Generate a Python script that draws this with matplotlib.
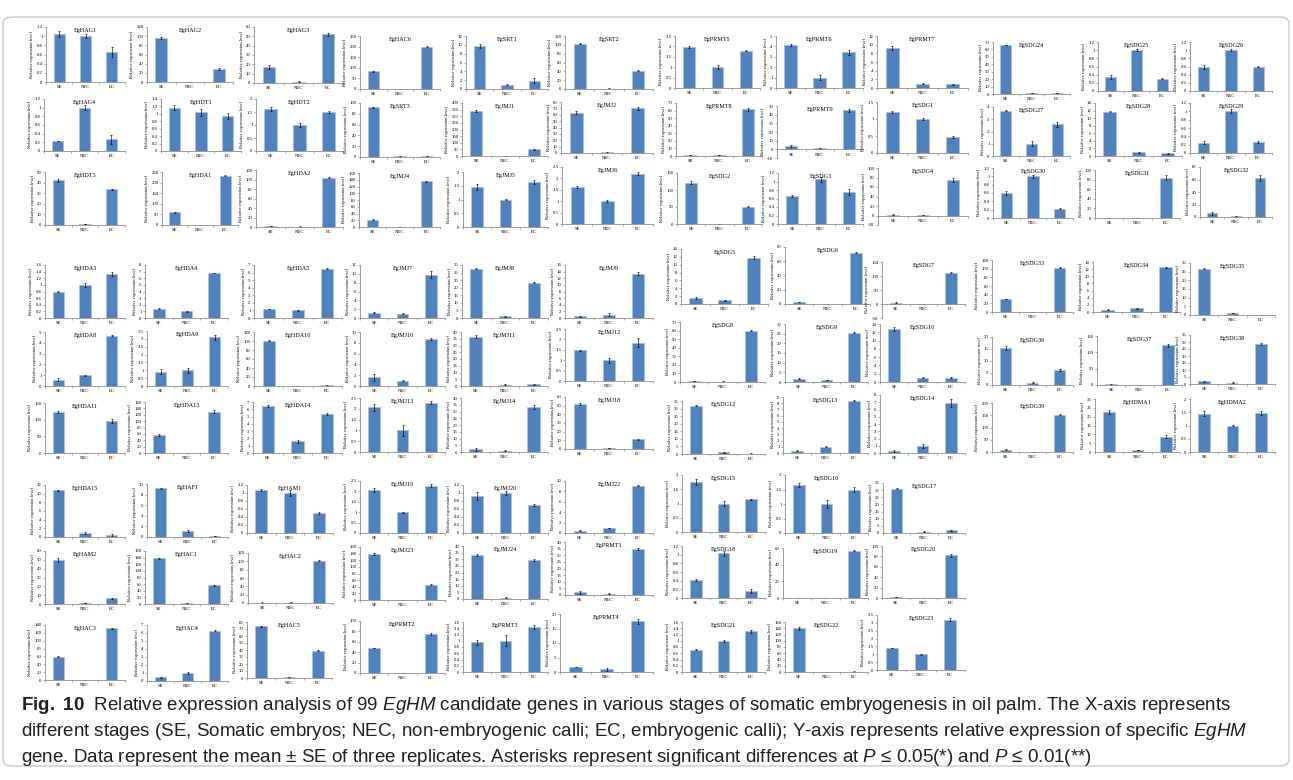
import numpy as np
import matplotlib
matplotlib.use("Agg")
import matplotlib.pyplot as plt
from matplotlib import font_manager
from matplotlib.patches import FancyBboxPatch
from matplotlib.ticker import FuncFormatter

# ─── Data ───────────────────────────────────────────────────────────────────
stages = ["SE", "NEC", "EC"]

genes = [
    # top block
    "EgHAG1", "EgHAG2", "EgHAG3", "EgHAG4", "EgHDT1", "EgHDT2", "EgHDT3", "EgHDA1", "EgHDA2",
    "EgHAC6", "EgSRT1", "EgSRT2", "EgSRT3", "EgJMJ1", "EgJMJ2", "EgJMJ4", "EgJMJ5", "EgJMJ6",
    "EgPRMT5", "EgPRMT6", "EgPRMT7", "EgPRMT8", "EgPRMT9", "EgSDG1", "EgSDG2", "EgSDG3", "EgSDG4",
    "EgSDG24", "EgSDG25", "EgSDG26", "EgSDG27", "EgSDG28", "EgSDG29", "EgSDG30", "EgSDG31", "EgSDG32",
    # middle block
    "EgHDA3", "EgHDA4", "EgHDA5", "EgHDA8", "EgHDA9", "EgHDA10", "EgHDA11", "EgHDA13", "EgHDA14",
    "EgJMJ7", "EgJMJ8", "EgJMJ9", "EgJMJ10", "EgJMJ11", "EgJMJ12", "EgJMJ13", "EgJMJ14", "EgJMJ18",
    "EgSDG5", "EgSDG6", "EgSDG7", "EgSDG8", "EgSDG9", "EgSDG10", "EgSDG12", "EgSDG13", "EgSDG14",
    "EgSDG33", "EgSDG34", "EgSDG35", "EgSDG36", "EgSDG37", "EgSDG38", "EgSDG39", "EgHDMA1", "EgHDMA2",
    # bottom block
    "EgHDA15", "EgHAF1", "EgHAM1", "EgHAM2", "EgHAC1", "EgHAC2", "EgHAC3", "EgHAC4", "EgHAC5",
    "EgJMJ19", "EgJMJ20", "EgJMJ22", "EgJMJ23", "EgJMJ24", "EgPRMT1", "EgPRMT2", "EgPRMT3", "EgPRMT4",
    "EgSDG15", "EgSDG16", "EgSDG17", "EgSDG18", "EgSDG19", "EgSDG20", "EgSDG21", "EgSDG22", "EgSDG23",
]

se_mean = [
    1.05, 96, 17, 0.23, 1.17, 1.62, 42, 60, 1.5,
    83, 9.8, 103, 92, 340, 63, 21, 1.45, 1.62,
    1.95, 4.15, 9.3, 1, 3.5, 1.2, 122, 0.66, 2,
    66, 0.34, 0.58, 3.7, 11.7, 0.25, 0.6, 0.2, 6,
    0.8, 1.4, 1.2, 0.6, 0.92, 101, 123, 57, 6.45,
    1.2, 32.5, 0.5, 1.6, 36.5, 1.48, 2.07, 2, 52,
    1.6, 3, 5, 1, 1.8, 12.8, 32, 0.4, 0.25,
    30, 0.7, 26.7, 15.5, 2, 2, 10, 22.7, 1.45,
    10.8, 9.2, 1.07, 50, 138, 1, 59, 0.45, 74,
    2.07, 0.93, 0.4, 140, 33.5, 2, 48, 0.95, 1.7,
    1.75, 1.65, 31, 0.41, 0.5, 2, 0.72, 140, 1.4,
]
nec_mean = [
    1.0, 0.5, 1.5, 1.0, 1.04, 1.0, 1, 0.5, 1,
    1, 1.0, 1, 1, 1, 1, 1, 1.0, 1.0,
    1.0, 1.0, 1.0, 1, 1, 1.0, 0, 1.05, 1,
    1, 1.0, 1.0, 1.0, 1.0, 1.0, 1.0, 0.2, 1,
    1.0, 1.0, 1.0, 1.0, 1.0, 0.5, 0, 0, 1.6,
    1.0, 1.0, 1.0, 1.0, 1, 1.0, 1.0, 1, 1,
    0.9, 0.5, 1, 0.5, 1, 1.0, 1, 1.0, 1.0,
    0.2, 1.0, 1.0, 1.0, 1, 1, 0.2, 1, 1.0,
    1.0, 1.1, 1.0, 1, 2, 1, 0.2, 1.0, 1,
    1.0, 1.0, 1.0, 0.2, 1, 1, 0.2, 1.0, 1.0,
    1.0, 1.0, 1, 1.03, 0.5, 0.5, 1.0, 1, 1.0,
]
ec_mean = [
    0.66, 28, 52, 0.27, 0.94, 1.5, 33.5, 232, 104,
    200, 1.9, 41, 1.5, 52, 70, 135, 1.63, 2.2,
    1.8, 3.45, 0.9, 62, 45, 0.47, 51, 0.75, 74,
    1, 0.3, 0.6, 2.6, 0.7, 0.27, 0.22, 84, 62,
    1.32, 6.8, 6.5, 4.65, 3.1, 1.5, 96, 130, 5.4,
    9.8, 23.3, 13.4, 8.7, 1.2, 1.85, 2.28, 33.5, 11,
    11.8, 72, 112, 60, 25.5, 1.0, 0.3, 8.4, 6.9,
    102, 12.5, 0.1, 6.3, 122, 28.5, 152, 8.7, 1.48,
    0.4, 0.2, 0.5, 6.5, 56, 102, 132, 6.3, 39,
    2.27, 0.7, 9.1, 46, 29.3, 34.5, 75, 1.43, 17.5,
    1.15, 1.5, 2, 0.16, 57, 82, 1.3, 1.5, 3.2,
]
se_err = [
    0.06, 1.5, 2, 0.01, 0.07, 0.07, 1.5, 2, 0.3,
    2, 0.5, 1.5, 1, 6, 2.5, 1.5, 0.1, 0.03,
    0.05, 0.08, 0.5, 0.2, 1, 0.03, 5, 0.02, 0.5,
    0.5, 0.05, 0.05, 0.03, 0.2, 0.04, 0.04, 0, 2,
    0.03, 0.05, 0.05, 0.15, 0.18, 1, 2, 3, 0.1,
    0.1, 0.2, 0.1, 0.6, 1.2, 0.03, 0.17, 1, 1.5,
    0.3, 0.5, 1, 0.3, 0.2, 0.4, 0.3, 0.05, 0.1,
    1, 0.15, 0.2, 0.8, 0.5, 0.3, 2, 1, 0.08,
    0.1, 0.1, 0.03, 2.5, 1.5, 0.3, 1, 0.05, 0.5,
    0.1, 0.1, 0.1, 3, 0.8, 1, 0.5, 0.08, 0.1,
    0.1, 0.07, 0.2, 0.02, 0.1, 0.5, 0.03, 4, 0.03,
]
nec_err = [
    0.05, 0.2, 0.5, 0.06, 0.1, 0.08, 0.2, 0.2, 0.3,
    0.3, 0.1, 0.3, 0.3, 0.5, 0.3, 0.3, 0.02, 0.04,
    0.1, 0.25, 0.1, 0.2, 0.8, 0.02, 0, 0.05, 0.3,
    0.2, 0.02, 0.02, 0.2, 0.1, 0.05, 0.04, 0, 0.3,
    0.05, 0.05, 0.05, 0.05, 0.15, 0.2, 0, 0, 0.2,
    0.1, 0.3, 0.4, 0.15, 0.2, 0.12, 0.25, 0.3, 0.3,
    0.1, 0.2, 0.3, 0.2, 0.2, 0.1, 0.2, 0.05, 0.3,
    0, 0.1, 0.1, 0.1, 0.3, 0.2, 0, 0.1, 0.03,
    0.2, 0.15, 0.07, 0.3, 0.5, 0.3, 0, 0.1, 0.3,
    0.03, 0.05, 0.05, 0, 0.2, 0.2, 0, 0.17, 0.5,
    0.08, 0.15, 0.3, 0.06, 0.1, 0.2, 0.03, 0.3, 0.04,
]
ec_err = [
    0.11, 2, 2, 0.1, 0.09, 0.03, 0.7, 3, 1,
    2, 0.5, 1, 0.8, 3, 2, 2, 0.08, 0.07,
    0.03, 0.25, 0.1, 2, 1.5, 0.03, 2, 0.07, 4,
    0.2, 0.01, 0.02, 0.2, 0.05, 0.03, 0.01, 5, 5,
    0.06, 0.05, 0.05, 0.03, 0.15, 0.5, 5, 5, 0.15,
    0.8, 0.5, 0.4, 0.1, 0.5, 0.2, 0.07, 1.5, 0.5,
    0.3, 1, 2, 0.5, 0.3, 0.1, 0.1, 0.05, 0.5,
    1, 0.1, 0, 0.3, 5, 0.5, 2, 1, 0.08,
    0.3, 0.05, 0.03, 0.5, 1.5, 1.5, 1, 0.1, 0.5,
    0.07, 0.02, 0.1, 1, 0.6, 0.8, 1.5, 0.06, 0.8,
    0.02, 0.07, 0.3, 0.05, 1, 3, 0.05, 0.5, 0.1,
]

y_max = [
    1.2, 120, 60, 1.2, 1.4, 2, 50, 250, 120,
    250, 12, 120, 100, 400, 80, 160, 2, 2.5,
    2.5, 5, 12, 70, 50, 1.5, 150, 1.2, 100,
    70, 1.2, 1.2, 4, 14, 1.2, 1.2, 100, 80,
    1.6, 8, 7, 5, 3.5, 120, 150, 160, 7,
    12, 35, 16, 10, 40, 2.5, 2.5, 40, 60,
    14, 80, 150, 70, 30, 14, 35, 9, 8,
    120, 14, 30, 20, 150, 35, 200, 30, 2,
    12, 10, 1.2, 60, 160, 120, 140, 7, 80,
    2.5, 1.2, 10, 160, 40, 40, 100, 1.6, 20,
    2, 2, 35, 1.2, 60, 100, 1.6, 160, 3.5,
]
y_step = [
    0.2, 20, 10, 0.2, 0.2, 0.5, 10, 50, 20,
    50, 2, 20, 20, 50, 10, 20, 0.5, 0.5,
    0.5, 1, 2, 10, 10, 0.5, 50, 0.2, 20,
    10, 0.2, 0.2, 1, 2, 0.2, 0.2, 20, 20,
    0.2, 1, 1, 1, 0.5, 20, 50, 20, 1,
    2, 5, 2, 2, 5, 0.5, 0.5, 5, 10,
    2, 20, 50, 10, 5, 2, 5, 1, 1,
    20, 2, 5, 5, 50, 5, 50, 5, 0.5,
    2, 2, 0.2, 10, 20, 20, 20, 1, 10,
    0.5, 0.2, 2, 20, 5, 5, 20, 0.2, 5,
    0.5, 0.5, 5, 0.2, 20, 20, 0.2, 20, 0.5,
]
# panels whose value axis starts below zero
y_min = {"EgPRMT9": -10, "EgSDG4": -20, "EgSDG7": -50}

# ─── Layout: plot area of each panel in pixels (left, top, right, bottom) ──
W, H = 1293, 780
panel_px = [
    (46, 27, 125, 82), (147, 27, 233, 82), (254, 27, 343, 83),
    (44, 99, 125, 151), (161, 99, 241, 151), (256, 99, 343, 151),
    (45, 172, 125, 225), (162, 172, 238, 225), (256, 170, 343, 227),
    (360, 36, 440, 89), (466, 36, 548, 89), (565, 36, 653, 89),
    (360, 103, 440, 157), (462, 103, 548, 156), (561, 102, 653, 153),
    (359, 173, 440, 227), (463, 172, 548, 227), (562, 167, 653, 224),
    (675, 36, 760, 88), (776, 36, 863, 88), (877, 36, 968, 88),
    (676, 103, 762, 156), (777, 106, 863, 158), (877, 102, 968, 153),
    (677, 173, 762, 224), (778, 173, 863, 224), (878, 168, 968, 225),
    (993, 42, 1070, 94), (1098, 42, 1175, 91), (1190, 42, 1272, 91),
    (993, 107, 1070, 156), (1095, 103, 1182, 156), (1190, 103, 1272, 153),
    (993, 168, 1073, 218), (1095, 170, 1180, 218), (1200, 167, 1272, 217),

    (45, 265, 125, 318), (145, 265, 228, 318), (254, 265, 342, 318),
    (45, 332, 125, 386), (147, 331, 228, 386), (254, 332, 342, 386),
    (45, 403, 125, 453), (145, 402, 228, 453), (253, 402, 342, 453),
    (360, 265, 445, 318), (462, 265, 548, 318), (565, 265, 653, 318),
    (360, 332, 445, 386), (461, 332, 548, 386), (565, 329, 653, 381),
    (360, 398, 445, 452), (461, 398, 548, 452), (565, 397, 653, 449),
    (681, 249, 768, 304), (785, 247, 870, 304), (882, 262, 965, 318),
    (680, 322, 765, 382), (785, 324, 868, 382), (880, 324, 965, 382),
    (682, 401, 765, 454), (783, 397, 868, 453), (880, 395, 965, 453),
    (992, 260, 1073, 312), (1093, 262, 1180, 312), (1190, 263, 1275, 315),
    (992, 337, 1073, 385), (1097, 336, 1182, 385), (1190, 335, 1275, 384),
    (992, 403, 1073, 452), (1095, 399, 1180, 452), (1190, 399, 1275, 452),

    (45, 485, 125, 537), (147, 484, 228, 537), (247, 485, 333, 533),
    (45, 551, 125, 604), (145, 551, 228, 604), (248, 553, 333, 603),
    (45, 625, 125, 680), (147, 625, 228, 681), (247, 622, 332, 678),
    (360, 481, 445, 533), (463, 485, 548, 533), (565, 481, 653, 533),
    (360, 547, 445, 600), (463, 546, 548, 599), (565, 542, 653, 595),
    (360, 621, 445, 673), (463, 622, 548, 672), (560, 614, 653, 672),
    (682, 475, 765, 532), (785, 475, 868, 533), (883, 483, 965, 533),
    (682, 546, 765, 598), (783, 548, 868, 598), (882, 546, 965, 598),
    (682, 622, 765, 672), (785, 622, 868, 672), (877, 615, 965, 670),
]

BAR_COLOR = "#4F81BD"
BAR_EDGE = "#A9C0DF"
AXIS_COLOR = "#8C8C8C"
SERIF = "Liberation Serif"

fig = plt.figure(figsize=(W / 100, H / 100), dpi=100)

# outer frame of the figure box
frame = FancyBboxPatch((3 / W, 1 - 766 / H), 1286 / W, 749 / H,
                       boxstyle="round,pad=0,rounding_size=0.008",
                       transform=fig.transFigure, facecolor="none",
                       edgecolor="#C4C4C4", linewidth=0.9)
fig.patches.append(frame)

fmt = FuncFormatter(lambda v, _: f"{v:g}")
x = np.arange(len(stages))

for i, gene in enumerate(genes):
    l, t, r, b = panel_px[i]
    ax = fig.add_axes([l / W, 1 - b / H, (r - l) / W, (b - t) / H])
    means = [se_mean[i], nec_mean[i], ec_mean[i]]
    errs = [se_err[i], nec_err[i], ec_err[i]]
    ax.bar(x, means, width=0.42, color=BAR_COLOR, edgecolor=BAR_EDGE, linewidth=0.5,
           yerr=errs, error_kw=dict(ecolor="black", elinewidth=0.45, capsize=0.9,
                                    capthick=0.45), zorder=2)
    lo = y_min.get(gene, 0)
    ax.set_xlim(-0.5, 2.5)
    ax.set_ylim(lo, y_max[i])
    ticks = np.round(np.arange(lo, y_max[i] + y_step[i] / 2, y_step[i]), 6)
    ax.set_yticks(ticks)
    ax.yaxis.set_major_formatter(fmt)
    ax.set_xticks(x)
    ax.set_xticklabels(stages)
    ax.set_xticks([-0.5, 0.5, 1.5, 2.5], minor=True)

    for side in ("top", "right"):
        ax.spines[side].set_visible(False)
    for side in ("left", "bottom"):
        ax.spines[side].set_color(AXIS_COLOR)
        ax.spines[side].set_linewidth(0.6)
    if lo < 0:
        ax.spines["bottom"].set_position(("data", 0))

    ax.tick_params(axis="x", which="major", length=0, pad=2.5, labelsize=3.4)
    ax.tick_params(axis="x", which="minor", length=1.5, width=0.5, color=AXIS_COLOR)
    ax.tick_params(axis="y", length=1.5, width=0.5, color=AXIS_COLOR, pad=1,
                   labelsize=3.4)
    for lab in ax.get_xticklabels() + ax.get_yticklabels():
        lab.set_family(SERIF)
    ax.set_ylabel("Relative expression level", fontsize=3.3, family=SERIF, labelpad=1.5)
    ax.patch.set_alpha(0)
    ax.text(0.5, 0.98, gene, transform=ax.transAxes, ha="center", va="top",
            fontsize=4.4, family=SERIF)

# ─── Caption ────────────────────────────────────────────────────────────────
names = {f.name for f in font_manager.fontManager.ttflist}
cap_font = "Liberation Sans Narrow" if "Liberation Sans Narrow" in names else "Liberation Sans"
plt.rcParams["mathtext.fontset"] = "custom"
plt.rcParams["mathtext.rm"] = cap_font
plt.rcParams["mathtext.it"] = cap_font + ":italic"
plt.rcParams["mathtext.bf"] = cap_font + ":bold"

cap_lines = [
    r"$\mathbf{Fig.\ 10}$  Relative expression analysis of 99 $\mathit{EgHM}$ candidate genes in "
    r"various stages of somatic embryogenesis in oil palm. The X-axis represents",
    r"different stages (SE, Somatic embryos; NEC, non-embryogenic calli; EC, embryogenic calli); "
    r"Y-axis represents relative expression of specific $\mathit{EgHM}$",
    r"gene. Data represent the mean ± SE of three replicates. Asterisks represent significant "
    r"differences at $\mathit{P}$ ≤ $\mathit{0.05}$(*) and $\mathit{P}$ ≤ $\mathit{0.01}$(**)",
]
cap_y = [705, 732, 758]
cap_texts = [fig.text(21 / W, 1 - yy / H, s, fontsize=11, family=cap_font, color="#231F20",
                      ha="left", va="center")
             for s, yy in zip(cap_lines, cap_y)]
fig.canvas.draw()
renderer = fig.canvas.get_renderer()
w0 = cap_texts[0].get_window_extent(renderer).width
size = 11 * 1212 / w0
for t in cap_texts:
    t.set_fontsize(size)

fig.savefig("out.png", dpi=100)
